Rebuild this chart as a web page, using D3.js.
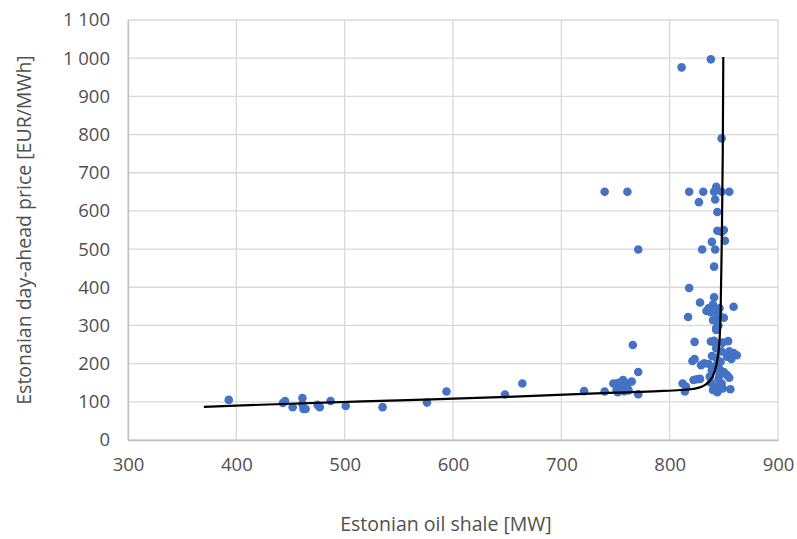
<!DOCTYPE html>
<html>
<head>
  <meta charset="utf-8">
  <style>
    body { margin: 0; background: #fff; }
    text { font-family: "Open Sans", sans-serif; fill: #505050; }
    .grid line { stroke: #d9d9d9; stroke-width: 1.3; }
  </style>
</head>
<body>
<div id="chart"></div>
<script src="https://d3js.org/d3.v7.min.js"></script>
<script>
// oil shale output [MW] vs day-ahead price [EUR/MWh]
const shale = [393,443,445,452,461,461,462,464,475,477,487,501,535,576,594,648,664,721,740,750,
  753,757,761,765,771,751,756,761,771,755,758,762,752,748,740,761,771,766,
  811,838,848,818,831,827,841,843,848,855,842,844,844,850,848,851,839,830,842,841,818,
  828,817,841,836,834,838,842,846,840,845,859,840,843,843,843,845,850,
  823,838,841,842,854,849,843,848,855,859,862,853,839,843,857,847,
  823,821,832,829,836,843,846,850,853,855,839,837,825,828,822,
  812,815,814,840,843,848,849,856,845,838,844,846];
const price = [105,97,102,86,110,94,81,81,92,86,102,89,86,98,127,119,148,128,127,147,
  150,157,148,153,178,131,135,135,120,140,128,130,125,148,650,650,499,249,
  976,997,790,650,650,623,650,663,650,650,630,597,548,550,545,522,519,499,499,454,398,
  360,322,374,345,338,335,340,345,355,330,349,314,317,293,288,300,320,
  257,258,260,255,259,255,240,232,232,228,222,218,220,215,212,205,
  212,207,201,196,199,195,185,178,170,163,183,166,159,160,157,
  148,140,127,131,140,148,135,133,160,150,125,170];

// fitted curve
const fitX = [370,450,550,650,750,790,810,822,830,836,841,844,846,847,848,849,849.5];
const fitY = [87,95,104,113,124,128,131,134,140,152,175,210,260,330,500,750,1003];

const xTicks = [300,400,500,600,700,800,900];
const yTicks = [0,100,200,300,400,500,600,700,800,900,1000,1100];

const width = 797, height = 539;
const margin = {top: 20, right: 19, bottom: 99, left: 128};

const svg = d3.select('#chart').append('svg')
  .attr('width', width).attr('height', height);

const x = d3.scaleLinear().domain([300, 900]).range([margin.left, width - margin.right]);
const y = d3.scaleLinear().domain([0, 1100]).range([height - margin.bottom, margin.top]);

const fmt = d3.formatLocale({decimal: ',', thousands: ' ', grouping: [3], currency: ['', '']}).format(',d');

// gridlines
svg.append('g').attr('class', 'grid')
  .selectAll('line').data(yTicks).join('line')
  .attr('x1', x(300)).attr('x2', x(900))
  .attr('y1', d => y(d)).attr('y2', d => y(d));
svg.append('g').attr('class', 'grid')
  .selectAll('line').data(xTicks).join('line')
  .attr('y1', y(0)).attr('y2', y(1100))
  .attr('x1', d => x(d)).attr('x2', d => x(d));

// axes
const xAxis = svg.append('g')
  .attr('transform', `translate(0,${y(0)})`)
  .call(d3.axisBottom(x).tickValues(xTicks).tickSize(0).tickPadding(18));
xAxis.select('.domain').attr('stroke', '#bfbfbf').attr('stroke-width', 1.3);
xAxis.selectAll('text').style('font-size', '18.5px');

const yAxis = svg.append('g')
  .attr('transform', `translate(${x(300)},0)`)
  .call(d3.axisLeft(y).tickValues(yTicks).tickFormat(fmt).tickSize(0).tickPadding(18));
yAxis.select('.domain').attr('stroke', '#bfbfbf').attr('stroke-width', 1.3);
yAxis.selectAll('text').style('font-size', '18.5px');

// points
svg.append('g')
  .selectAll('circle').data(shale).join('circle')
  .attr('cx', d => x(d))
  .attr('cy', (d, i) => y(price[i]))
  .attr('r', 4.3)
  .attr('fill', '#4472c4');

// fit line
const line = d3.line()
  .x(d => x(d[0])).y(d => y(d[1]))
  .curve(d3.curveMonotoneX);
svg.append('path')
  .datum(fitX.map((v, i) => [v, fitY[i]]))
  .attr('d', line)
  .attr('fill', 'none')
  .attr('stroke', '#000')
  .attr('stroke-width', 2.2);

// titles
svg.append('text')
  .attr('x', 446).attr('y', 531)
  .attr('text-anchor', 'middle')
  .style('font-size', '19.5px')
  .text('Estonian oil shale [MW]');
svg.append('text')
  .attr('transform', `translate(31,230) rotate(-90)`)
  .attr('text-anchor', 'middle')
  .style('font-size', '19.5px')
  .text('Estonaian day-ahead price [EUR/MWh]');
</script>
</body>
</html>
